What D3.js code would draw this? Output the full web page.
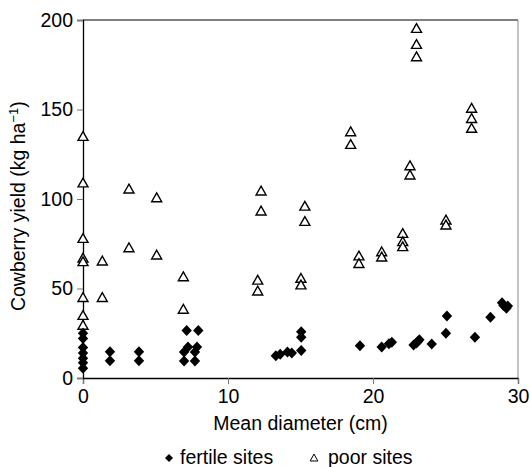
<!DOCTYPE html>
<html>
<head>
<meta charset="utf-8">
<script src="https://cdn.jsdelivr.net/npm/d3@7"></script>
<style>
  body { margin: 0; background: #fff; }
  svg text { font-family: "Liberation Sans", Arial, sans-serif; fill: #000; }
</style>
</head>
<body>
<svg id="chart" width="530" height="467"></svg>
<script>
// poor sites (open triangles): [diameter, yield]
const poorSites = [
  [0, 135], [0, 109], [0, 78], [0, 67], [0, 65], [0, 45], [0, 35], [0, 29.5],
  [1.33, 65.4], [1.33, 45],
  [3.17, 105.6], [3.17, 72.8],
  [5.08, 100.7], [5.08, 68.7],
  [6.92, 56.6], [6.92, 38.4],
  [12.28, 104.5], [12.28, 93.3], [12.05, 54.7], [12.05, 48.6],
  [15.3, 96], [15.3, 87.5], [15.03, 55.7], [15.03, 52],
  [18.46, 137.6], [18.46, 130.5],
  [19.03, 68.2], [19.03, 64],
  [20.6, 70.5], [20.6, 67.6],
  [22.05, 80.8], [22.05, 76.2], [22.05, 73.4],
  [22.55, 118.6], [22.55, 113.4],
  [23.0, 195.3], [23.0, 186.4], [23.0, 179.5],
  [25.03, 88.3], [25.03, 85.5],
  [26.8, 150.7], [26.8, 145], [26.8, 139.5]
];

// fertile sites (filled diamonds): [diameter, yield]
const fertileSites = [
  [0, 5.5], [0, 8.5], [0, 11], [0, 14], [0, 17], [0, 22], [0, 25],
  [1.86, 14.7], [1.86, 9.7],
  [3.86, 14.7], [3.86, 9.7],
  [7.15, 26.5], [7.95, 26.5], [7.24, 17.3], [7.86, 17.3],
  [6.97, 14.5], [7.72, 14.5], [6.97, 9.5], [7.72, 9.5],
  [13.3, 12.5], [13.6, 13.3], [14.1, 14.5], [14.4, 14], [15.05, 15.3], [15.05, 22.8], [15.05, 25.8],
  [19.1, 18],
  [20.6, 17.3], [21.1, 19.2], [21.3, 20],
  [22.8, 18.5], [23.0, 19.5], [23.2, 21.3], [23.1, 20.5],
  [24.05, 19],
  [25.03, 25], [25.1, 34.6],
  [27.03, 22.7],
  [28.1, 33.9],
  [28.9, 42], [29.0, 40.5], [29.2, 39], [29.3, 40.2]
];

const xTicks = [0, 10, 20, 30];
const yTicks = [0, 50, 100, 150, 200];

const svg = d3.select('#chart');
const margin = {left: 83, right: 12, top: 20, bottom: 89};
const W = 530, H = 467;
const fs = '19.5px';

const x = d3.scaleLinear().domain([0, 30]).range([margin.left, W - margin.right]);
const y = d3.scaleLinear().domain([0, 200]).range([H - margin.bottom, margin.top]);

// frame: top line black, right line grey
svg.append('line')
  .attr('x1', x(0)).attr('x2', x(30))
  .attr('y1', y(200)).attr('y2', y(200))
  .attr('stroke', '#000').attr('stroke-width', 1);
svg.append('line')
  .attr('x1', x(30)).attr('x2', x(30))
  .attr('y1', y(200)).attr('y2', y(0))
  .attr('stroke', '#888').attr('stroke-width', 1);

// axes
const xAxis = svg.append('g')
  .attr('transform', `translate(0,${y(0)})`)
  .call(d3.axisBottom(x).tickValues(xTicks).tickSize(6).tickPadding(5));
const yAxis = svg.append('g')
  .attr('transform', `translate(${x(0)},0)`)
  .call(d3.axisLeft(y).tickValues(yTicks).tickSize(6).tickPadding(4));

[xAxis, yAxis].forEach(g => {
  g.select('.domain').attr('stroke', '#000').attr('stroke-width', 1.3);
  g.selectAll('.tick line').attr('stroke', '#777');
  g.selectAll('.tick text').style('font-size', fs)
    .style('font-family', '"Liberation Sans", Arial, sans-serif');
});

// axis titles
svg.append('text')
  .attr('x', x(15)).attr('y', 430)
  .attr('text-anchor', 'middle')
  .style('font-size', fs)
  .text('Mean diameter (cm)');

const yTitle = svg.append('text')
  .attr('transform', `translate(25,${y(96)}) rotate(-90)`)
  .attr('text-anchor', 'middle')
  .style('font-size', fs);
yTitle.append('tspan').text('Cowberry yield (kg ha');
yTitle.append('tspan').attr('dy', -7).style('font-size', '13px').text('\u22121');
yTitle.append('tspan').attr('dy', 7).text(')');

// markers
const diamond = 'M0,-5.5L5.2,0L0,5.5L-5.2,0Z';
const triangle = 'M0,-4.8L5,4L-5,4Z';

svg.append('g').selectAll('path.poor')
  .data(poorSites)
  .join('path')
  .attr('class', 'poor')
  .attr('d', triangle)
  .attr('transform', d => `translate(${x(d[0])},${y(d[1])})`)
  .attr('fill', '#fff')
  .attr('stroke', '#000')
  .attr('stroke-width', 1.4)
  .attr('stroke-linejoin', 'miter');

svg.append('g').selectAll('path.fertile')
  .data(fertileSites)
  .join('path')
  .attr('class', 'fertile')
  .attr('d', diamond)
  .attr('transform', d => `translate(${x(d[0])},${y(d[1])})`)
  .attr('fill', '#000');

// legend
const legend = svg.append('g').attr('transform', 'translate(0,464)');
legend.append('path')
  .attr('d', 'M0,-4L4,0L0,4L-4,0Z')
  .attr('transform', 'translate(169,-6)')
  .attr('fill', '#000');
legend.append('text').attr('x', 180).attr('y', 0).style('font-size', fs).text('fertile sites');
legend.append('path')
  .attr('d', 'M0,-4L3.8,3L-3.8,3Z')
  .attr('transform', 'translate(314,-6)')
  .attr('fill', '#fff').attr('stroke', '#000').attr('stroke-width', 1);
legend.append('text').attr('x', 328).attr('y', 0).style('font-size', fs).text('poor sites');
</script>
</body>
</html>
